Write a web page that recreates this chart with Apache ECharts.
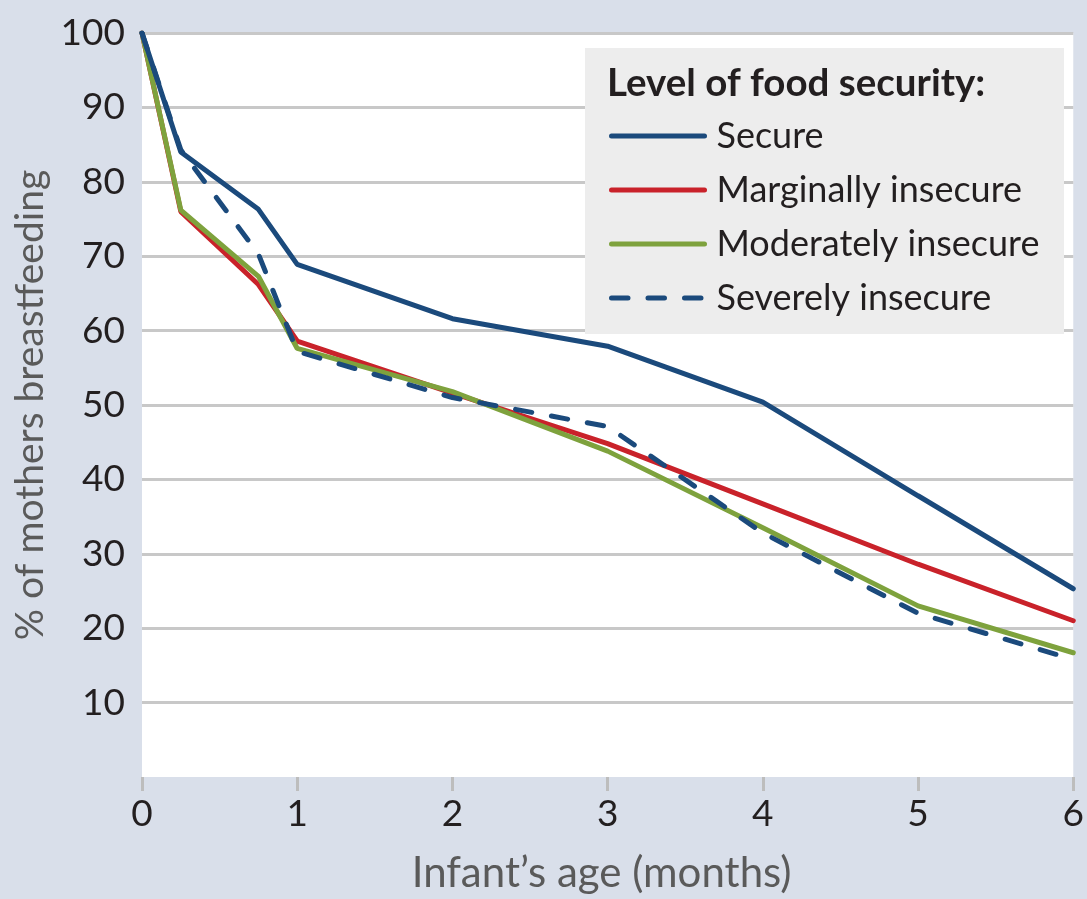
<!DOCTYPE html>
<html>
<head>
<meta charset="utf-8">
<script src="https://cdn.jsdelivr.net/npm/echarts@6/dist/echarts.min.js"></script>
<style>
html,body{margin:0;padding:0;background:#d9dfea;}
#chart{width:1087px;height:899px;}
</style>
</head>
<body>
<div id="chart"></div>
<script>
// ages in months
var ages = [0, 0.25, 0.75, 1, 2, 3, 4, 5, 6];
var secure = [100, 84.0, 76.3, 68.9, 61.6, 57.9, 50.4, 37.8, 25.3];
var marginal = [100, 76.0, 66.2, 58.6, 51.6, 44.8, 36.7, 28.6, 21.0];
var moderate = [100, 76.2, 67.3, 57.6, 51.8, 43.8, 33.5, 23.0, 16.7];
var severe = [100, 84.3, 70.3, 57.2, 51.0, 47.1, 32.8, 22.0, 15.8];
var seriesNames = ['Secure', 'Marginally insecure', 'Moderately insecure', 'Severely insecure'];
var xTicks = [0, 1, 2, 3, 4, 5, 6];
var yTicks = [10, 20, 30, 40, 50, 60, 70, 80, 90, 100];
var legendTitle = 'Level of food security:';
var xTitle = 'Infant\u2019s age (months)';
var yTitle = '% of mothers breastfeeding';

function pairs(ys) { return ages.map(function (a, i) { return [a, ys[i]]; }); }

var FONT = 'Lato';
var BLUE = '#1b4a7c', RED = '#c9222a', GREEN = '#7ea23d';

var chart = echarts.init(document.getElementById('chart'), null, {renderer: 'canvas'});
chart.setOption({
  backgroundColor: '#d9dfea',
  animation: false,
  textStyle: {fontFamily: FONT},
  grid: {left: 142, right: 13, top: 33, bottom: 121, show: true, backgroundColor: '#ffffff', borderWidth: 0},
  xAxis: {
    type: 'value', min: 0, max: 6, interval: 1,
    axisLine: {show: false},
    axisTick: {show: true, length: 14, lineStyle: {color: '#bdbdbd', width: 3}},
    splitLine: {show: false},
    axisLabel: {margin: 19, fontSize: 37, color: '#231f20', fontFamily: FONT,
      formatter: function (v) { return xTicks.indexOf(v) >= 0 ? String(v) : ''; }},
    name: xTitle, nameLocation: 'middle', nameGap: 75,
    nameTextStyle: {fontSize: 42, color: '#5a5a5a', fontFamily: FONT, padding: [0, 12, 0, 0]}
  },
  yAxis: {
    type: 'value', min: 0, max: 100, interval: 10,
    axisLine: {show: false}, axisTick: {show: false},
    splitLine: {show: true, showMinLine: false, lineStyle: {color: '#c8c8c8', width: 3}},
    axisLabel: {margin: 17, fontSize: 37, color: '#231f20', fontFamily: FONT,
      formatter: function (v) { return yTicks.indexOf(v) >= 0 ? String(v) : ''; }},
    name: yTitle, nameLocation: 'middle', nameGap: 86,
    nameTextStyle: {fontSize: 39, color: '#5a5a5a', fontFamily: FONT}
  },
  legend: {
    orient: 'vertical', left: 609, top: 116, padding: 0,
    itemWidth: 93, itemHeight: 14, itemGap: 14,
    data: seriesNames,
    itemStyle: {opacity: 0},
    lineStyle: {width: 5},
    textStyle: {fontSize: 36, color: '#231f20', lineHeight: 40, fontFamily: FONT, padding: [0, 0, 0, 7]},
    z: 5
  },
  graphic: [
    {type: 'rect', z: 1, shape: {x: 585, y: 48, width: 479, height: 286}, style: {fill: '#ededed'}},
    {type: 'text', z: 6, x: 607, y: 84, style: {text: legendTitle, fill: '#231f20', font: 'bold 38.5px ' + FONT, verticalAlign: 'middle'}}
  ],
  series: [
    {name: seriesNames[1], type: 'line', data: pairs(marginal), symbol: 'none', z: 2,
      lineStyle: {color: RED, width: 5, cap: 'round'}, itemStyle: {color: RED}},
    {name: seriesNames[2], type: 'line', data: pairs(moderate), symbol: 'none', z: 3,
      lineStyle: {color: GREEN, width: 5, cap: 'round'}, itemStyle: {color: GREEN}},
    {name: seriesNames[0], type: 'line', data: pairs(secure), symbol: 'none', z: 4,
      lineStyle: {color: BLUE, width: 5, cap: 'round'}, itemStyle: {color: BLUE}},
    {name: seriesNames[3], type: 'line', data: pairs(severe), symbol: 'none', z: 5,
      lineStyle: {color: BLUE, width: 5, type: [16.5, 20], cap: 'round'}, itemStyle: {color: BLUE}}
  ]
});
</script>
</body>
</html>
